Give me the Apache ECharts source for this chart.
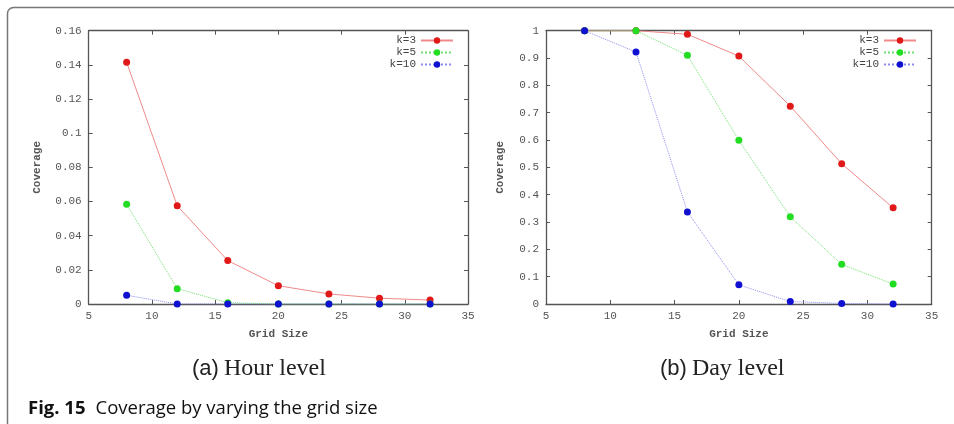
<!DOCTYPE html>
<html>
<head>
<meta charset="utf-8">
<script src="https://cdn.jsdelivr.net/npm/echarts@6/dist/echarts.min.js"></script>
<style>
html,body{margin:0;padding:0;background:#fff;}
#chart{width:954px;height:424px;}
</style>
</head>
<body>
<div id="chart"></div>
<script>
// ---- data ----
const gridSizes = [8, 12, 16, 20, 24, 28, 32];
const seriesNames = ['k=3', 'k=5', 'k=10'];
const hourK3  = [0.1415, 0.0575, 0.0254, 0.0107, 0.0059, 0.0034, 0.0023];
const hourK5  = [0.0584, 0.0090, 0.0008, 0, 0, 0, 0];
const hourK10 = [0.0051, 0, 0, 0, 0, 0, 0];
const dayK3   = [1, 1, 0.987, 0.907, 0.724, 0.513, 0.352];
const dayK5   = [1, 1, 0.910, 0.599, 0.319, 0.145, 0.073];
const dayK10  = [1, 0.922, 0.337, 0.070, 0.009, 0.002, 0];
const captionA = ['(a)', 'Hour level'];
const captionB = ['(b)', 'Day level'];
const figLabel = 'Fig. 15';
const figText = 'Coverage by varying the grid size';

// ---- styles ----
const mono = 'Liberation Mono';
const labelColor = '#555';
const axisColor = '#555';
const markerColors = ['#e01818', '#22dd22', '#1010d0'];
const lineColors = ['#f08a8a', '#6fe06f', '#8c8cf0'];
const lineTypes = ['solid', 'dotted', 'dotted'];

function pair(xs, ys) { return xs.map((x, i) => [x, ys[i]]); }

function xAxes(gridIndex) {
  const base = {
    type: 'value', gridIndex: gridIndex, min: 5, max: 35, interval: 5,
    splitLine: {show: false},
    axisLine: {show: true, onZero: false, lineStyle: {color: axisColor, width: 1.3}},
    axisTick: {show: true, inside: true, length: 4, lineStyle: {color: axisColor}}
  };
  return [
    Object.assign({}, base, {
      position: 'bottom',
      name: 'Grid Size', nameLocation: 'middle', nameGap: 25,
      nameTextStyle: {fontFamily: mono, fontSize: 11, color: labelColor, fontWeight: 'bold'},
      axisLabel: {fontFamily: mono, fontSize: 11, color: labelColor, margin: 7}
    }),
    Object.assign({}, base, {position: 'top', axisLabel: {show: false}})
  ];
}
function yAxes(gridIndex, max, interval, nameGap) {
  const base = {
    type: 'value', gridIndex: gridIndex, min: 0, max: max, interval: interval,
    splitLine: {show: false},
    axisLine: {show: true, onZero: false, lineStyle: {color: axisColor, width: 1.3}},
    axisTick: {show: true, inside: true, length: 4, lineStyle: {color: axisColor}}
  };
  return [
    Object.assign({}, base, {
      position: 'left',
      name: 'Coverage', nameLocation: 'middle', nameGap: nameGap,
      nameTextStyle: {fontFamily: mono, fontSize: 11, color: labelColor, fontWeight: 'bold'},
      axisLabel: {fontFamily: mono, fontSize: 11, color: labelColor, margin: 7}
    }),
    Object.assign({}, base, {position: 'right', axisLabel: {show: false}})
  ];
}

function makeSeries(xIdx, yIdx, dataSets) {
  return dataSets.map((ys, i) => ({
    type: 'line', name: seriesNames[i],
    xAxisIndex: xIdx, yAxisIndex: yIdx,
    data: pair(gridSizes, ys),
    symbol: 'circle', symbolSize: 7,
    itemStyle: {color: markerColors[i]},
    lineStyle: {color: lineColors[i], width: 1, type: lineTypes[i]},
    z: 2 + i,
    animation: false
  }));
}

const legendBase = {
  orient: 'vertical', align: 'right', top: 35, padding: 0, itemGap: 1,
  itemWidth: 32, itemHeight: 8,
  textStyle: {fontFamily: mono, fontSize: 11, color: '#444', padding: [0, 0, 0, 0]},
  data: seriesNames, selectedMode: false
};

const captionRich = {
  a: {fontFamily: 'Liberation Sans', fontSize: 22, fontWeight: 'normal', color: '#222'},
  b: {fontFamily: 'Liberation Serif', fontSize: 24, fontWeight: 'normal', color: '#222'}
};

const chart = echarts.init(document.getElementById('chart'), null, {renderer: 'canvas'});
chart.setOption({
  backgroundColor: '#fff',
  animation: false,
  grid: [
    {left: 88.7, top: 30.7, width: 379.3, height: 273.3},
    {left: 546, top: 30.7, width: 385.7, height: 273.3}
  ],
  xAxis: xAxes(0).concat(xAxes(1)),
  yAxis: yAxes(0, 0.16, 0.02, 46).concat(yAxes(1, 1, 0.1, 40)),
  legend: [
    Object.assign({}, legendBase, {right: 500}),
    Object.assign({}, legendBase, {right: 37})
  ],
  title: [
    {
      text: '{a|' + captionA[0] + '} {b|' + captionA[1] + '}',
      left: 187, top: 352,
      textStyle: {fontWeight: 'normal', rich: captionRich}
    },
    {
      text: '{a|' + captionB[0] + '} {b|' + captionB[1] + '}',
      left: 655, top: 352,
      textStyle: {fontWeight: 'normal', rich: captionRich}
    },
    {
      text: '{a|' + figLabel + '}  {b|' + figText + '}',
      left: 23, top: 394,
      textStyle: {fontWeight: 'normal', rich: {
        a: {fontFamily: 'Open Sans', fontSize: 18.5, fontWeight: 'bold', color: '#111'},
        b: {fontFamily: 'Open Sans', fontSize: 18.5, fontWeight: 'normal', color: '#111'}
      }}
    }
  ],
  graphic: [
    {
      type: 'rect', silent: true, z: -1,
      shape: {x: 7.5, y: 7.5, width: 1000, height: 500, r: [6, 0, 0, 0]},
      style: {fill: null, stroke: '#777', lineWidth: 1.5}
    }
  ],
  series: makeSeries(0, 0, [hourK3, hourK5, hourK10])
    .concat(makeSeries(2, 2, [dayK3, dayK5, dayK10]))
});
</script>
</body>
</html>
